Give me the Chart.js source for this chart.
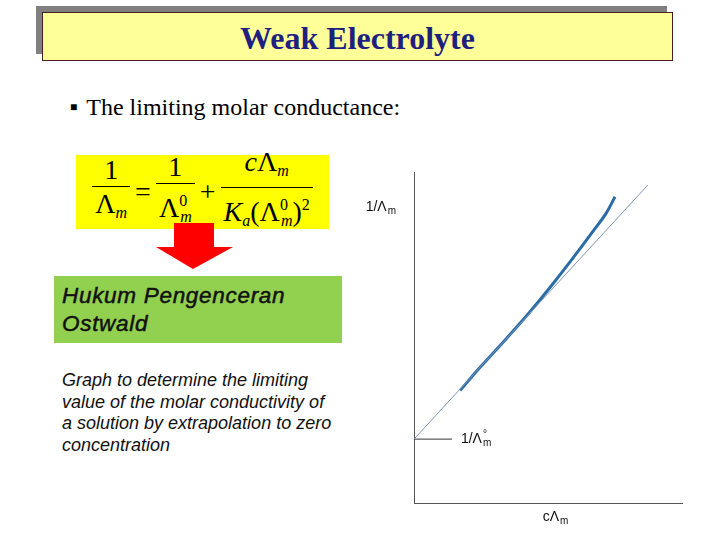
<!DOCTYPE html>
<html>
<head>
<meta charset="utf-8">
<script src="https://cdn.jsdelivr.net/npm/chart.js@4"></script>
<style>
  body { margin: 0; background: #fff; width: 720px; height: 540px; position: relative; overflow: hidden; }
  .abs { position: absolute; }
  #shadow { left: 36px; top: 6px; width: 631px; height: 48px; background: #808080; }
  #titlebox { left: 42px; top: 12px; width: 629px; height: 47px; background: #ffff99; border: 1px solid #4a1f1f;
    font: bold 32px "Liberation Serif", "Times New Roman", serif; color: #1f1f80; text-align: center; line-height: 50px; }
  #bullet { left: 70px; top: 94px; font: 24px "Liberation Serif", serif; color: #000; white-space: nowrap; }
  #bullet span { font-size: 12px; vertical-align: 4px; margin-right: 9px; }
  #formula { left: 76px; top: 155px; width: 253px; height: 74px; background: #ffff00;
    font: 28px "Liberation Serif", serif; display: flex; align-items: center; justify-content: center; gap: 8px; }
  .frac { display: inline-flex; flex-direction: column; align-items: center; }
  .frac .num { border-bottom: 1.5px solid #000; padding: 0 3px; line-height: 32px; width: 100%; text-align: center; }
  .frac .den { line-height: 34px; }
  sub, sup { font-size: 16px; font-style: italic; }
  sup { vertical-align: 11px; font-style: normal; }
  sub { vertical-align: -5px; }
  #arrow { left: 155px; top: 223px; }
  #green { left: 54px; top: 276px; width: 288px; height: 67px; background: #92d050;
    font: italic 22.5px "Liberation Sans", Arial, sans-serif; color: #111; letter-spacing: 0.7px;
    -webkit-text-stroke: 0.5px #111; }
  #green div { padding: 6px 0 0 8px; line-height: 28px; }
  #caption { left: 62px; top: 370px; font: italic 18px "Liberation Sans", Arial, sans-serif; line-height: 21.5px; color: #111; }
  #wrap { left: 350px; top: 160px; width: 350px; height: 375px; }
</style>
</head>
<body>
<div class="abs" id="shadow"></div>
<div class="abs" id="titlebox">Weak Electrolyte</div>
<div class="abs" id="bullet"><span>&#9632;</span>The limiting molar conductance:</div>
<div class="abs" id="formula">
  <span class="frac"><span class="num">1</span><span class="den">&Lambda;<sub>m</sub></span></span>
  <span>=</span>
  <span class="frac"><span class="num">1</span><span class="den">&Lambda;<sup>0</sup><sub style="margin-left:-7px">m</sub></span></span>
  <span>+</span>
  <span class="frac"><span class="num"><i>c</i>&Lambda;<sub>m</sub></span><span class="den"><i>K</i><sub>a</sub>(&Lambda;<sup>0</sup><sub style="margin-left:-7px">m</sub>)<sup>2</sup></span></span>
</div>
<svg class="abs" id="arrow" width="80" height="48">
  <polygon points="19,0 59,0 59,24 78,24 38,46 1,24 19,24" fill="#ff0000"/>
</svg>
<div class="abs" id="green"><div>Hukum Pengenceran<br>Ostwald</div></div>
<div class="abs" id="caption">Graph to determine the limiting<br>value of the molar conductivity of<br>a solution by extrapolation to zero<br>concentration</div>
<div class="abs" id="wrap"><canvas id="chart" width="350" height="375"></canvas></div>

<script>
// values, arbitrary units (axes run 0..100)
const fitX = [0, 87.3];
const fitY = [19.3, 96.1];
const curveX = [17.2, 24.0, 34.6, 43.3, 52.0, 59.5, 66.9, 71.9, 75.0];
const curveY = [34.0, 40.4, 49.8, 57.8, 66.4, 74.2, 82.2, 87.8, 92.5];
const markX = [0, 14.2];
const markY = [19.3, 19.3];

function pts(xs, ys) {
    return xs.map(function(x, i) { return {x: x, y: ys[i]}; });
}

// axis labels with subscripts drawn on the canvas
const labelPlugin = {
    id: 'labels',
    afterDraw(chart) {
        const ctx = chart.ctx;
        const xs = chart.scales.x, ys = chart.scales.y;
        function lbl(main, sub, sup, x, y, align) {
            ctx.save();
            ctx.fillStyle = '#111';
            ctx.textBaseline = 'middle';
            ctx.font = '14px "Liberation Sans", Arial, sans-serif';
            const w1 = ctx.measureText(main).width;
            ctx.font = '10px "Liberation Sans", Arial, sans-serif';
            const w2 = ctx.measureText(sub).width;
            let x0 = align === 'right' ? x - w1 - w2 - 1 : (align === 'center' ? x - (w1 + w2) / 2 : x);
            ctx.font = '14px "Liberation Sans", Arial, sans-serif';
            ctx.fillText(main, x0, y);
            ctx.font = '10px "Liberation Sans", Arial, sans-serif';
            ctx.fillText(sub, x0 + w1 + 1, y + 4);
            if (sup) ctx.fillText(sup, x0 + w1 + 1, y - 5);
            ctx.restore();
        }
        lbl('1/\u039B', 'm', null, chart.chartArea.left - 18, ys.getPixelForValue(89.4), 'right');
        lbl('c\u039B', 'm', null, xs.getPixelForValue(52.6), chart.chartArea.bottom + 14, 'center');
        lbl('1/\u039B', 'm', '\u00B0', xs.getPixelForValue(17.5), ys.getPixelForValue(19.3), 'left');
    }
};

new Chart(document.getElementById('chart').getContext('2d'), {
    type: 'scatter',
    data: {
        datasets: [
            {data: pts(fitX, fitY), showLine: true, borderColor: '#7d96b4', borderWidth: 1, pointRadius: 0},
            {data: pts(curveX, curveY), showLine: true, borderColor: '#2b6ca6', borderWidth: 3, pointRadius: 0, cubicInterpolationMode: 'monotone'},
            {data: pts(markX, markY), showLine: true, borderColor: '#333', borderWidth: 1, pointRadius: 0}
        ]
    },
    options: {
        responsive: false,
        animation: false,
        layout: {
            padding: {left: 64, top: 12, right: 18, bottom: 32}
        },
        plugins: {
            legend: {display: false},
            tooltip: {enabled: false}
        },
        scales: {
            x: {
                min: 0, max: 100,
                grid: {display: false, drawTicks: false},
                border: {color: '#555', width: 1},
                ticks: {display: false}
            },
            y: {
                min: 0, max: 100,
                grid: {display: false, drawTicks: false},
                border: {color: '#555', width: 1},
                ticks: {display: false}
            }
        }
    },
    plugins: [labelPlugin]
});
</script>
</body>
</html>
